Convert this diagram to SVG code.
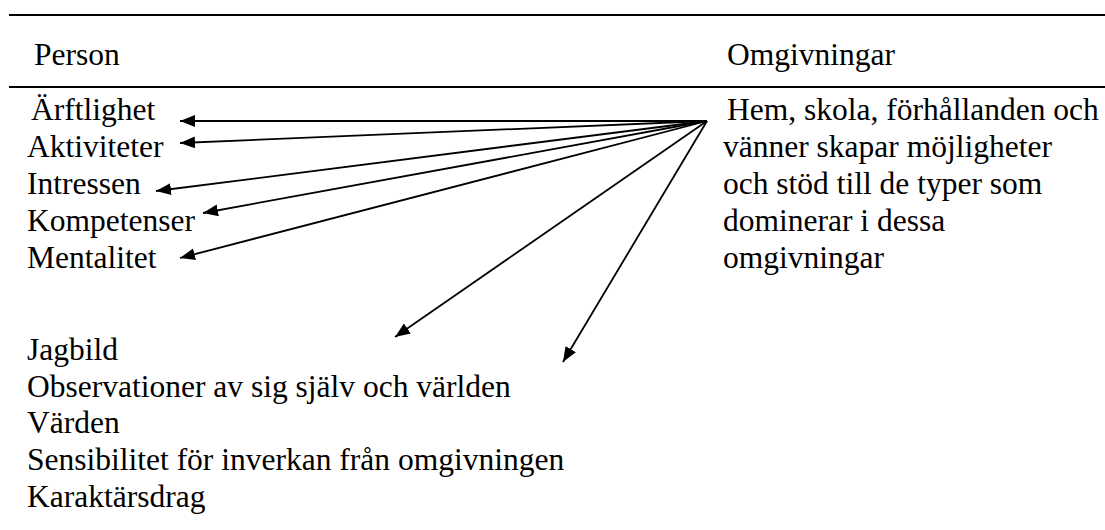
<svg xmlns="http://www.w3.org/2000/svg" width="1105" height="530" viewBox="0 0 1105 530">
  <defs>
    <style>
      text { font-family: "Liberation Serif", "Times New Roman", serif; font-size: 31.5px; fill: #000; }
      .rule { stroke: #000; stroke-width: 2; }
      .conn { stroke: #000; stroke-width: 1.8; fill: none; marker-end: url(#arrow); }
    </style>
    <marker id="arrow" markerUnits="userSpaceOnUse" markerWidth="16" markerHeight="13" refX="15" refY="6" orient="auto">
      <path d="M0,0 L15,6 L0,12 z" fill="#000"/>
    </marker>
  </defs>
  <rect width="1105" height="530" fill="#fff"/>

  <g id="header">
    <line class="rule" x1="9" y1="15" x2="1105" y2="15"/>
    <text x="34" y="65">Person</text>
    <text x="727" y="65">Omgivningar</text>
    <line class="rule" x1="9" y1="87" x2="1105" y2="87"/>
  </g>

  <g id="person-traits">
    <text x="31" y="120">Ärftlighet</text>
    <text x="27" y="157">Aktiviteter</text>
    <text x="27" y="194">Intressen</text>
    <text x="27" y="231">Kompetenser</text>
    <text x="27" y="268">Mentalitet</text>
  </g>

  <g id="person-inner">
    <text x="27" y="360">Jagbild</text>
    <text x="27" y="397">Observationer av sig själv och världen</text>
    <text x="27" y="433">Värden</text>
    <text x="27" y="470">Sensibilitet för inverkan från omgivningen</text>
    <text x="27" y="507">Karaktärsdrag</text>
  </g>

  <g id="environment">
    <text x="727" y="120">Hem, skola, förhållanden och</text>
    <text x="723" y="157">vänner skapar möjligheter</text>
    <text x="723" y="194">och stöd till de typer som</text>
    <text x="723" y="231">dominerar i dessa</text>
    <text x="723" y="268">omgivningar</text>
  </g>

  <g id="connectors">
    <line class="conn" x1="707" y1="121" x2="180" y2="121"/>
    <line class="conn" x1="707" y1="121" x2="180" y2="143"/>
    <line class="conn" x1="707" y1="121" x2="156" y2="191"/>
    <line class="conn" x1="707" y1="121" x2="203" y2="213"/>
    <line class="conn" x1="707" y1="121" x2="180" y2="258"/>
    <line class="conn" x1="707" y1="121" x2="395" y2="337"/>
    <line class="conn" x1="707" y1="121" x2="563" y2="362"/>
  </g>
</svg>
